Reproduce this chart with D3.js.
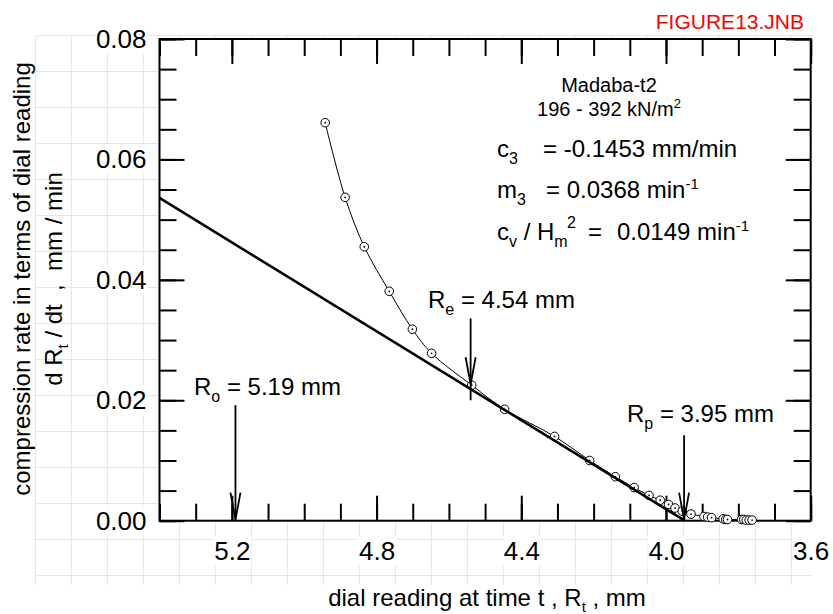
<!DOCTYPE html>
<html>
<head>
<meta charset="utf-8">
<script src="https://cdn.jsdelivr.net/npm/d3@7"></script>
<style>
  body { margin: 0; background: #fff; }
  text { font-family: "Liberation Sans", Arial, Helvetica, sans-serif; fill: #000; }
</style>
</head>
<body>
<div id="chart"></div>
<script>
// axis settings
const xDomain = [5.4, 3.6];
const yDomain = [0, 0.08];
const xTickValues = [5.2, 4.8, 4.4, 4.0, 3.6];
const yTickValues = [0, 0.02, 0.04, 0.06, 0.08];

// measured points: dial reading R_t (mm) and dR_t/dt (mm/min)
const dialReading = [4.942, 4.887, 4.834, 4.765, 4.701, 4.648, 4.537, 4.446, 4.308, 4.211,
    4.140, 4.088, 4.047, 4.016, 3.993, 3.975, 3.955, 3.931, 3.895, 3.885,
    3.874, 3.842, 3.835, 3.830, 3.791, 3.785, 3.778, 3.770, 3.762];
const compressionRate = [0.0661, 0.0537, 0.0455, 0.0381, 0.0318, 0.0278, 0.0225, 0.0185, 0.0140, 0.0100,
    0.0073, 0.0055, 0.0042, 0.0034, 0.0027, 0.0021, 0.0016, 0.0011, 0.0007, 0.0006,
    0.0005, 0.0003, 0.0002, 0.0002, 0.0002, 0.0002, 0.0001, 0.0001, 0.0001];

// fitted straight line (c3 + m3 * R)
const fitReading = [5.4, 3.948];
const fitRate = [0.0536, 0];

// R_o, R_e, R_p markers
const markerNames = ["o", "e", "p"];
const markerReading = [5.19, 4.54, 3.95];
const markerTopRate = [0.0192, 0.0336, 0.0142];
const markerTipRate = [0, 0.0225, 0];
const markerEndRate = [0, 0.0200, 0];

const width = 833;
const height = 614;
const plot = { left: 159.5, right: 810.7, top: 39, bottom: 520.7 };

const svg = d3.select("#chart")
    .append("svg")
    .attr("width", width)
    .attr("height", height);

// graph paper background
const grid = svg.append("g")
    .attr("stroke", "#c4f4f4")
    .attr("stroke-width", 1);
grid.selectAll("line.v")
    .data(d3.range(36, 813, 36))
    .enter()
    .append("line")
    .attr("x1", d => d - 0.5).attr("x2", d => d - 0.5)
    .attr("y1", 36).attr("y2", 585);
grid.selectAll("line.h")
    .data(d3.range(36, 585, 36))
    .enter()
    .append("line")
    .attr("x1", 36).attr("x2", 813)
    .attr("y1", d => d - 0.5).attr("y2", d => d - 0.5);

// white plot area
svg.append("rect")
    .attr("x", plot.left).attr("y", plot.top)
    .attr("width", plot.right - plot.left)
    .attr("height", plot.bottom - plot.top)
    .attr("fill", "#fff");

// Scales
const x = d3.scaleLinear().domain(xDomain).range([plot.left, plot.right]);
const y = d3.scaleLinear().domain(yDomain).range([plot.bottom, plot.top]);

// Ticks (inward), minor first then major
function addAxis(axis, tx, ty) {
    const g = svg.append("g")
        .attr("transform", `translate(${tx},${ty})`)
        .call(axis);
    g.select(".domain").remove();
    g.selectAll(".tick line").attr("stroke", "#000").attr("stroke-width", 2);
    return g;
}

const xMinor = x.ticks(18);
const yMinor = y.ticks(16);

addAxis(d3.axisBottom(x).tickValues(xMinor).tickSize(-17).tickFormat(""), 0, plot.bottom);
addAxis(d3.axisTop(x).tickValues(xMinor).tickSize(-17).tickFormat(""), 0, plot.top);
addAxis(d3.axisLeft(y).tickValues(yMinor).tickSize(-17).tickFormat(""), plot.left, 0);
addAxis(d3.axisRight(y).tickValues(yMinor).tickSize(-17).tickFormat(""), plot.right, 0);

const xAxisG = addAxis(d3.axisBottom(x).tickValues(xTickValues).tickSize(-25).tickPadding(21)
    .tickFormat(d3.format(".1f")), 0, plot.bottom);
addAxis(d3.axisTop(x).tickValues(xTickValues).tickSize(-25).tickFormat(""), 0, plot.top);
const yAxisG = addAxis(d3.axisLeft(y).tickValues(yTickValues).tickSize(-25).tickPadding(13)
    .tickFormat(d3.format(".2f")), plot.left, 0);
addAxis(d3.axisRight(y).tickValues(yTickValues).tickSize(-25).tickFormat(""), plot.right, 0);

// tick labels sit on white boxes over the paper grid
[xAxisG, yAxisG].forEach(g => {
    g.selectAll(".tick text")
        .attr("font-family", "Liberation Sans, Arial, sans-serif")
        .attr("font-size", 26)
        .attr("fill", "#000")
        .each(function() {
            const b = this.getBBox();
            d3.select(this.parentNode).insert("rect", "text")
                .attr("x", b.x - 1).attr("y", b.y)
                .attr("width", b.width + 2).attr("height", b.height)
                .attr("fill", "#fff");
        });
});

// frame
svg.append("rect")
    .attr("x", plot.left).attr("y", plot.top)
    .attr("width", plot.right - plot.left)
    .attr("height", plot.bottom - plot.top)
    .attr("fill", "none")
    .attr("stroke", "#000")
    .attr("stroke-width", 2);

// data
const points = dialReading.map((r, i) => ({ r: r, v: compressionRate[i] }));

const thinLine = d3.line()
    .x(d => x(d.r))
    .y(d => y(d.v))
    .curve(d3.curveCatmullRom.alpha(0.5));

svg.append("path")
    .datum(points)
    .attr("d", thinLine)
    .attr("fill", "none")
    .attr("stroke", "#000")
    .attr("stroke-width", 1);

const dots = svg.selectAll("g.pt")
    .data(points)
    .enter()
    .append("g")
    .attr("transform", d => `translate(${x(d.r)},${y(d.v)})`);
dots.append("circle")
    .attr("r", 4.3)
    .attr("fill", "#fff")
    .attr("stroke", "#000")
    .attr("stroke-width", 1);
dots.append("circle")
    .attr("r", 0.9)
    .attr("fill", "#000");

// fitted line
const fit = fitReading.map((r, i) => ({ r: r, v: fitRate[i] }));
svg.append("path")
    .datum(fit)
    .attr("d", d3.line().x(d => x(d.r)).y(d => y(d.v)))
    .attr("fill", "none")
    .attr("stroke", "#000")
    .attr("stroke-width", 2.6);

// arrows
const markers = markerNames.map((n, i) => ({
    name: n, r: markerReading[i],
    top: markerTopRate[i], tip: markerTipRate[i], end: markerEndRate[i]
}));

const arrows = svg.selectAll("g.arrow")
    .data(markers)
    .enter()
    .append("g")
    .attr("fill", "none")
    .attr("stroke", "#000")
    .attr("stroke-width", 1.8);
arrows.append("line")
    .attr("x1", d => x(d.r)).attr("x2", d => x(d.r))
    .attr("y1", d => y(d.top)).attr("y2", d => y(d.end));
arrows.append("path")
    .attr("d", d => {
        const ax = x(d.r), ay = y(d.tip) - 1;
        return `M${ax - 5},${ay - 27}L${ax},${ay}L${ax + 5},${ay - 27}`;
    });

// arrow labels
const labelPos = [[194, 395], [428, 308], [627, 421.5]];
markers.forEach((d, i) => {
    const t = svg.append("text")
        .attr("x", labelPos[i][0])
        .attr("y", labelPos[i][1])
        .attr("font-size", 24);
    t.append("tspan").text("R");
    t.append("tspan").attr("font-size", 16).attr("dy", 7).text(d.name);
    t.append("tspan").attr("dy", -7).text(" = " + d3.format(".2f")(d.r) + " mm");
});

// sample text
svg.append("text")
    .attr("x", 609).attr("y", 91.5)
    .attr("text-anchor", "middle")
    .attr("font-size", 20)
    .text("Madaba-t2");
const load = svg.append("text")
    .attr("x", 609).attr("y", 116)
    .attr("text-anchor", "middle")
    .attr("font-size", 20);
load.append("tspan").text("196 - 392 kN/m");
load.append("tspan").attr("font-size", 13).attr("dy", -8).text("2");

// coefficients
const c3 = svg.append("text").attr("y", 156.7).attr("font-size", 24);
c3.append("tspan").attr("x", 497).text("c");
c3.append("tspan").attr("font-size", 16).attr("dy", 7).text("3");
c3.append("tspan").attr("x", 543).attr("dy", -7).text("= -0.1453 mm/min");

const m3 = svg.append("text").attr("y", 198.3).attr("font-size", 24);
m3.append("tspan").attr("x", 497).text("m");
m3.append("tspan").attr("font-size", 16).attr("dy", 7).text("3");
m3.append("tspan").attr("x", 546).attr("dy", -7).text("= 0.0368 min");
m3.append("tspan").attr("font-size", 15).attr("dy", -9).text("-1");

const cv = svg.append("text").attr("y", 240).attr("font-size", 24);
cv.append("tspan").attr("x", 497).text("c");
cv.append("tspan").attr("font-size", 16).attr("dy", 7).text("v");
cv.append("tspan").attr("dy", -7).text(" / H");
cv.append("tspan").attr("font-size", 16).attr("dy", 7).text("m");
cv.append("tspan").attr("x", 567).attr("font-size", 16).attr("dy", -19).text("2");
cv.append("tspan").attr("x", 588).attr("dy", 12).text("=");
cv.append("tspan").attr("x", 617).text("0.0149 min");
cv.append("tspan").attr("font-size", 15).attr("dy", -9).text("-1");

// file name
svg.append("text")
    .attr("x", 804).attr("y", 28.5)
    .attr("text-anchor", "end")
    .attr("font-size", 21)
    .style("fill", "#ff0000")
    .text("FIGURE13.JNB");

// axis titles
const xTitle = svg.append("text")
    .attr("x", 487).attr("y", 606)
    .attr("text-anchor", "middle")
    .attr("font-size", 24);
xTitle.append("tspan").text("dial reading at time t , R");
xTitle.append("tspan").attr("font-size", 15).attr("dy", 6).text("t");
xTitle.append("tspan").attr("dy", -6).text(" , mm");

const yTitle = svg.append("g")
    .attr("transform", "translate(0,279) rotate(-90)");
yTitle.append("text")
    .attr("x", 0).attr("y", 30)
    .attr("text-anchor", "middle")
    .attr("font-size", 24)
    .text("compression rate in terms of dial reading");
const yt2 = yTitle.append("text")
    .attr("x", 0).attr("y", 62)
    .attr("text-anchor", "middle")
    .attr("font-size", 24)
    .attr("xml:space", "preserve");
yt2.append("tspan").text("d R");
yt2.append("tspan").attr("font-size", 15).attr("dy", 6).text("t");
yt2.append("tspan").attr("dy", -6).text(" / dt  ,  mm / min");
</script>
</body>
</html>
